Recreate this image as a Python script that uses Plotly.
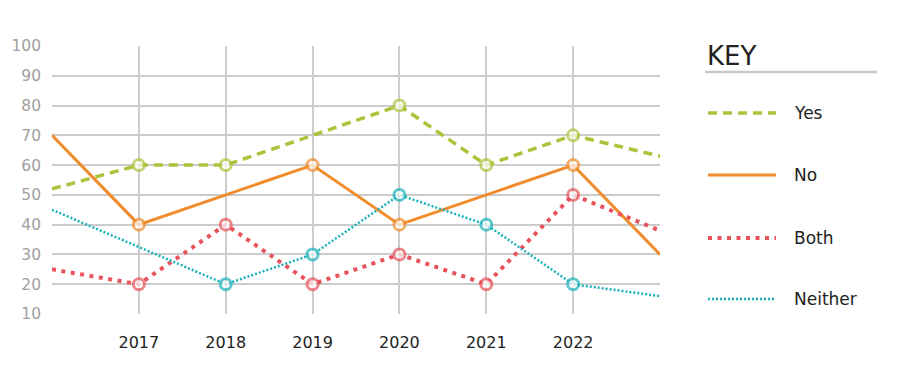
import plotly.graph_objects as go

years = [2016, 2017, 2018, 2019, 2020, 2021, 2022, 2023]
tick_years = [2017, 2018, 2019, 2020, 2021, 2022]
yes_vals = [52, 60, 60, None, 80, 60, 70, 63]
no_vals = [70, 40, None, 60, 40, None, 60, 30]
both_vals = [25, 20, 40, 20, 30, 20, 50, 38]
neither_vals = [45, None, 20, 30, 50, 40, 20, 16]
y_ticks = [10, 20, 30, 40, 50, 60, 70, 80, 90, 100]

series = [
    ("Yes", yes_vals, "#adc33b", 3.5, "9px,6px"),
    ("No", no_vals, "#f08c2c", 3, "solid"),
    ("Both", both_vals, "#e8525b", 4, "4px,5.5px"),
    ("Neither", neither_vals, "#19b2ba", 2.5, "2px,2px"),
]

FONT = "DejaVu Sans"
OFF = 8  # page body margin
W, H = 900 - OFF, 387 - OFF
# plot area in page pixels: x 52..660, y 46..314
L, R, T, B = 52 - OFF, W - (660 - OFF), 46 - OFF, H - (314 - OFF)
PW, PH = W - L - R, H - T - B

def px(x):
    return (x - OFF - L) / PW

def py(y):
    return (H - B - (y - OFF)) / PH

fig = go.Figure()
for name, vals, color, width, dash in series:
    sizes = [0 if (x in (years[0], years[-1])) else 11 for x in years]
    fig.add_trace(go.Scatter(
        x=years, y=vals, name=name, mode="lines+markers",
        connectgaps=True, showlegend=False,
        line=dict(color=color, width=width, dash=dash),
        marker=dict(size=sizes, color="white", line=dict(color=color, width=3)),
        cliponaxis=False,
    ))

shapes = []
annotations = []
annotations.append(dict(x=px(705), y=py(56), xref="paper", yref="paper", text="KEY",
                        showarrow=False, xanchor="left", yanchor="middle",
                        font=dict(size=26, color="#222222", family=FONT)))
shapes.append(dict(type="line", xref="paper", yref="paper", x0=px(705), x1=px(877),
                   y0=py(72), y1=py(72), line=dict(color="#c8c8c8", width=2.5)))
legend_y = [113, 175, 238, 299]
for (name, vals, color, width, dash), ly in zip(series, legend_y):
    shapes.append(dict(type="line", xref="paper", yref="paper", x0=px(708), x1=px(776),
                       y0=py(ly), y1=py(ly), line=dict(color=color, width=width, dash=dash)))
    annotations.append(dict(x=px(792), y=py(ly), xref="paper", yref="paper", text=name,
                            showarrow=False, xanchor="left", yanchor="middle",
                            font=dict(size=17, color="#222222", family=FONT)))

fig.update_layout(
    width=W, height=H,
    margin=dict(l=L, r=R, t=T, b=B, autoexpand=False),
    paper_bgcolor="white", plot_bgcolor="white",
    font=dict(family=FONT),
    shapes=shapes, annotations=annotations,
    xaxis=dict(range=[2016, 2023], tickvals=tick_years, ticktext=[str(t) for t in tick_years],
               showgrid=True, gridcolor="#cccccc", gridwidth=2, zeroline=False, showline=False,
               tickfont=dict(size=16, color="#222222", family=FONT), ticklabelstandoff=17,
               fixedrange=True, automargin=False),
    yaxis=dict(range=[10, 100], tickvals=y_ticks, showgrid=True, gridcolor="#cccccc", gridwidth=2,
               zeroline=False, showline=False,
               tickfont=dict(size=15.5, color="#a0a0a0", family=FONT), ticklabelstandoff=10,
               fixedrange=True, automargin=False),
)

fig.write_html("out.html")
